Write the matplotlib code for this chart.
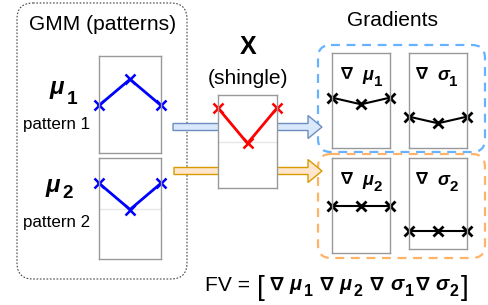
import matplotlib
matplotlib.use('Agg')
import matplotlib.pyplot as plt
from matplotlib.patches import FancyBboxPatch, FancyArrow

plt.rcParams['font.family'] = ['Liberation Sans', 'DejaVu Sans']
NABLA_FONT = ['Noto Sans CJK JP', 'DejaVu Sans']

W, H = 488, 305

# line heights (fraction of panel height) at left / middle / right
xs = [0, 1, 2]
pattern1 = [0.49, 0.76, 0.49]
pattern2 = [0.75, 0.49, 0.75]
shingle = [0.86, 0.48, 0.86]
grad_mu1 = [0.53, 0.46, 0.53]
grad_sigma1 = [0.33, 0.26, 0.33]
grad_mu2 = [0.49, 0.49, 0.49]
grad_sigma2 = [0.20, 0.20, 0.20]

fig = plt.figure(figsize=(W / 100, H / 100), dpi=100)


def overlay():
    o = fig.add_axes([0, 0, 1, 1])
    o.set_xlim(0, W)
    o.set_ylim(H, 0)
    o.axis('off')
    return o


bg = overlay()


def pt(px):
    return px * 0.72


def panel(x0, y0, x1, y1):
    a = fig.add_axes([x0 / W, 1 - y1 / H, (x1 - x0) / W, (y1 - y0) / H])
    a.set_xlim(0, 2)
    a.set_ylim(0, 1)
    a.set_xticks([])
    a.set_yticks([])
    for s in a.spines.values():
        s.set_color('#999999')
        s.set_linewidth(1)
    return a


def rbox(x0, y0, x1, y1, r, **kw):
    bg.add_patch(FancyBboxPatch((x0, y0), x1 - x0, y1 - y0,
                                boxstyle='round,pad=0,rounding_size=%d' % r,
                                facecolor='none', **kw))


# outer boxes
rbox(17, 3, 187, 279, 16, edgecolor='#444444', lw=0.8, linestyle=(0, (1.5, 1.5)))
rbox(318, 45, 485, 152, 13, edgecolor='#66b2ff', lw=1.6, linestyle=(0, (4, 3)))
rbox(318, 154, 485, 258, 13, edgecolor='#ffb366', lw=1.6, linestyle=(0, (4, 3)))

# arrows (pass behind the shingle panel)
bg.add_patch(FancyArrow(173, 127, 149, 0, width=7, head_width=23, head_length=14,
                        length_includes_head=True, facecolor='#dae8fc',
                        edgecolor='#6c8ebf', lw=1))
bg.add_patch(FancyArrow(174, 171, 148, 0, width=7, head_width=23, head_length=14,
                        length_includes_head=True, facecolor='#ffe6cc',
                        edgecolor='#d79b00', lw=1))

# pattern panels
a = panel(99, 56, 161, 153)
a.plot(xs, pattern1, color='blue', lw=2, marker='x', ms=7, mew=1.8, clip_on=False)
a = panel(99, 158, 161, 259)
a.axhline(0.5, color='#e6e6e6', lw=1)
a.plot(xs, pattern2, color='blue', lw=2, marker='x', ms=7, mew=1.8, clip_on=False)

# shingle panel
a = panel(218, 95, 277, 188)
a.axhline(0.5, color='#e6e6e6', lw=1)
a.plot(xs, shingle, color='red', lw=2, marker='x', ms=7, mew=1.8, clip_on=False)

# gradient panels
for box, vals in [((332, 53, 390, 148), grad_mu1),
                  ((409, 53, 467, 148), grad_sigma1),
                  ((332, 158, 390, 253), grad_mu2),
                  ((409, 158, 467, 249), grad_sigma2)]:
    a = panel(*box)
    a.plot(xs, vals, color='black', lw=1.5, marker='x', ms=6.5, mew=2, clip_on=False)

# text layer on top of the panels
fg = overlay()


def put(x, y, s, px, **kw):
    kw.setdefault('ha', 'left')
    kw.setdefault('va', 'baseline')
    fg.text(x, y, s, fontsize=pt(px), **kw)


# titles
put(103, 25, 'GMM (patterns)', 21, ha='center', va='center')
put(248, 47, 'X', 25, ha='center', va='center', fontweight='bold')
put(248, 78, '(shingle)', 21, ha='center', va='center')
put(393, 21, 'Gradients', 21, ha='center', va='center')
put(57, 125, 'pattern 1', 17, ha='center', va='center')
put(57, 223, 'pattern 2', 17, ha='center', va='center')

# mu labels left
put(50, 94, 'μ', 24, fontweight='bold', style='italic')
put(67, 104, '1', 19, fontweight='bold')
put(46, 192, 'μ', 24, fontweight='bold', style='italic')
put(62, 198, '2', 19, fontweight='bold')

# gradient labels
for x, y, sym, sub in [(340, 78, 'μ', '1'), (415, 78, 'σ', '1'),
                       (340, 183, 'μ', '2'), (415, 183, 'σ', '2')]:
    put(x - 1, y + 1, '∇', 16, fontweight='bold', family=NABLA_FONT)
    put(x + 22, y + 2, sym, 18, fontweight='bold', style='italic')
    put(x + 34, y + 8, sub, 15, fontweight='bold')

# feature vector formula
put(205, 291, 'FV =', 21)
put(257, 295, '[', 28)
for x, sym, sub in [(268, 'μ', '1'), (318, 'μ', '2'), (369, 'σ', '1'), (414, 'σ', '2')]:
    put(x - 1, 290, '∇', 18, fontweight='bold', family=NABLA_FONT)
    put(x + 21, 290, sym, 20, fontweight='bold', style='italic')
    put(x + 36, 296, sub, 16, fontweight='bold')
put(461, 295, ']', 28)

fig.savefig('out.png', dpi=100)
